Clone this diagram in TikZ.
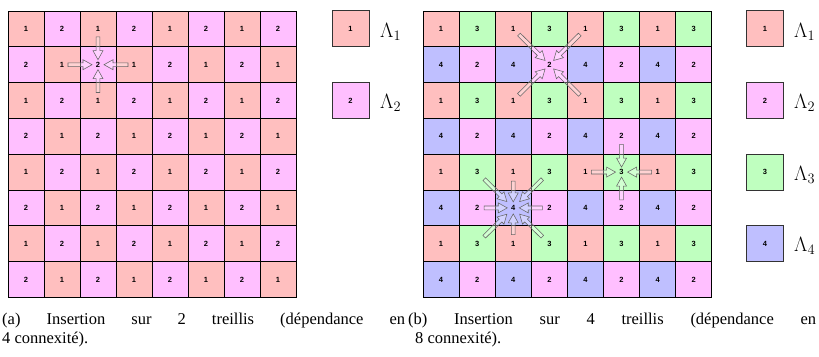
\documentclass[tikz,border=0pt]{standalone}
\usepackage{fontspec}
\setmainfont{Liberation Serif}
\newfontfamily\numfont{Liberation Sans}
\usetikzlibrary{calc}
\definecolor{c1}{HTML}{FFBFBF}
\definecolor{c2}{HTML}{FFBFFF}
\definecolor{c3}{HTML}{BFFFBF}
\definecolor{c4}{HTML}{BFBFFF}
\definecolor{arrowline}{HTML}{666666}
\tikzset{
  cell/.style={draw=black, line width=0.9pt, minimum width=36pt, minimum height=35.8pt,
    inner sep=0pt, font=\numfont\bfseries\fontsize{7.5}{8}\selectfont},
  legbox/.style={draw=black!80, line width=0.9pt, minimum width=37pt, minimum height=36pt,
    inner sep=0pt, font=\numfont\bfseries\fontsize{7.5}{8}\selectfont},
  legtext/.style={anchor=base west, inner sep=0pt, font=\fontsize{20}{24}\selectfont},
  captext/.style={anchor=base west, inner sep=0pt, font=\fontsize{16.5}{19.8}\selectfont},
  fatarrow/.style={draw=arrowline, line width=0.55pt, fill=white, fill opacity=0.3, line join=miter}
}
\newcommand\fatarrow[4]{%
  \coordinate (fa-s) at ($(#1)!#3!(#2)$);
  \coordinate (fa-t) at ($(#2)!#4!(#1)$);
  \coordinate (fa-b) at ($(fa-t)!9pt!(fa-s)$);
  \filldraw[fatarrow] ($(fa-s)!1.9pt!90:(fa-t)$) -- ($(fa-b)!1.9pt!-90:(fa-s)$)
    -- ($(fa-b)!5pt!-90:(fa-s)$) -- (fa-t) -- ($(fa-b)!5pt!90:(fa-s)$)
    -- ($(fa-b)!1.9pt!90:(fa-s)$) -- ($(fa-s)!1.9pt!-90:(fa-t)$) -- cycle;
}
\begin{document}
\begin{tikzpicture}[x=1pt,y=-1pt]
\useasboundingbox (0,0) rectangle (819,356);
% left grid
\foreach \r in {1,...,8} {
  \foreach \c in {1,...,8} {
    \pgfmathtruncatemacro\v{mod(\r+\c,2)==0 ? 1 : 2}
    \node[cell, fill=c\v] (L-\r-\c) at ({8+36*(\c-0.5)}, {11+35.8*(\r-0.5)}) {\v};
  }
}
% right grid
\foreach \r in {1,...,8} {
  \foreach \c in {1,...,8} {
    \pgfmathtruncatemacro\v{mod(\r,2)==1 ? (mod(\c,2)==1 ? 1 : 3) : (mod(\c,2)==1 ? 4 : 2)}
    \node[cell, fill=c\v] (R-\r-\c) at ({423+36.1*(\c-0.5)}, {11+35.8*(\r-0.5)}) {\v};
  }
}
% arrows, left grid
\fatarrow{L-1-3}{L-2-3}{8pt}{5pt}
\fatarrow{L-3-3}{L-2-3}{8pt}{5pt}
\fatarrow{L-2-2}{L-2-3}{6pt}{6pt}
\fatarrow{L-2-4}{L-2-3}{6pt}{6pt}
% arrows, right grid: target R-2-4
\fatarrow{R-1-3}{R-2-4}{8pt}{6pt}
\fatarrow{R-1-5}{R-2-4}{8pt}{6pt}
\fatarrow{R-3-3}{R-2-4}{8pt}{6pt}
\fatarrow{R-3-5}{R-2-4}{8pt}{6pt}
% target R-5-6
\fatarrow{R-4-6}{R-5-6}{8pt}{5pt}
\fatarrow{R-6-6}{R-5-6}{8pt}{5pt}
\fatarrow{R-5-5}{R-5-6}{6pt}{6pt}
\fatarrow{R-5-7}{R-5-6}{6pt}{6pt}
% target R-6-3
\fatarrow{R-5-3}{R-6-3}{9pt}{6pt}
\fatarrow{R-7-3}{R-6-3}{9pt}{6pt}
\fatarrow{R-6-2}{R-6-3}{7pt}{6pt}
\fatarrow{R-6-4}{R-6-3}{7pt}{6pt}
\fatarrow{R-5-2}{R-6-3}{10pt}{9pt}
\fatarrow{R-5-4}{R-6-3}{10pt}{9pt}
\fatarrow{R-7-2}{R-6-3}{10pt}{9pt}
\fatarrow{R-7-4}{R-6-3}{10pt}{9pt}
% legends
\node[legbox, fill=c1] (la1) at (350.5, 28.9) {1};
\node[legbox, fill=c2] (la2) at (350.5, 100.5) {2};
\node[legtext] (lat1) at (380, 37) {$\Lambda_1$};
\node[legtext] (lat2) at (380, 108.6) {$\Lambda_2$};
\node[legbox, fill=c1] (lb1) at (765, 28.9) {1};
\node[legbox, fill=c2] (lb2) at (765, 100.5) {2};
\node[legbox, fill=c3] (lb3) at (765, 172.1) {3};
\node[legbox, fill=c4] (lb4) at (765, 243.7) {4};
\node[legtext] (lbt1) at (794, 37) {$\Lambda_1$};
\node[legtext] (lbt2) at (794, 108.6) {$\Lambda_2$};
\node[legtext] (lbt3) at (794, 180.2) {$\Lambda_3$};
\node[legtext] (lbt4) at (794, 251.8) {$\Lambda_4$};
% captions
\node[captext] (capa1) at (2, 324) {\makebox[403pt][s]{(a) Insertion sur 2 treillis (dépendance en}};
\node[captext] (capa2) at (2, 343) {4 connexité).};
\node[captext] (capb1) at (408, 324) {\makebox[408pt][s]{(b) Insertion sur 4 treillis (dépendance en}};
\node[captext] (capb2) at (415, 343) {8 connexité).};
\end{tikzpicture}
\end{document}
